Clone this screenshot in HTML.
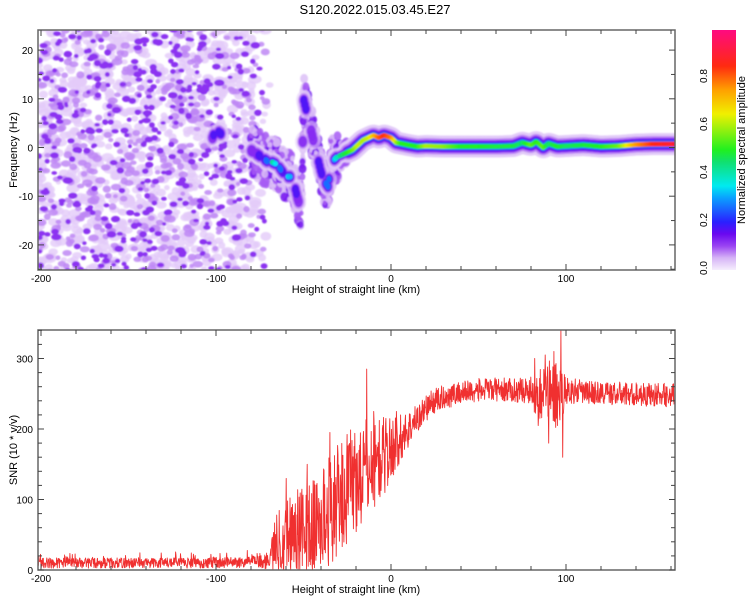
<!DOCTYPE html>
<html><head><meta charset="utf-8">
<style>
html,body{margin:0;padding:0;background:#fff;}
svg{display:block;font-family:"Liberation Sans",sans-serif;}
</style></head>
<body>
<svg id="root" width="750" height="600" viewBox="0 0 750 600">
<defs>
<filter id="soft" x="-5%" y="-5%" width="110%" height="110%"><feGaussianBlur stdDeviation="0.9"/></filter>
<clipPath id="clipTop"><rect x="38" y="30" width="637" height="240"/></clipPath>
<clipPath id="clipBot"><rect x="38" y="330" width="637" height="240"/></clipPath>
<linearGradient id="cbar" x1="0" y1="1" x2="0" y2="0">
<stop offset="0" stop-color="#f6eefd"/><stop offset="0.05" stop-color="#d6b4f6"/>
<stop offset="0.1" stop-color="#9a44f2"/><stop offset="0.15" stop-color="#6a08f0"/>
<stop offset="0.2" stop-color="#2a20ff"/><stop offset="0.3" stop-color="#0aa0ff"/>
<stop offset="0.35" stop-color="#00eaf0"/><stop offset="0.45" stop-color="#10e070"/>
<stop offset="0.5" stop-color="#20f020"/><stop offset="0.65" stop-color="#f0f000"/>
<stop offset="0.75" stop-color="#ffa000"/><stop offset="0.85" stop-color="#ff2a10"/>
<stop offset="1" stop-color="#ff0a80"/></linearGradient>
</defs>
<text x="375" y="14" text-anchor="middle" font-size="13">S120.2022.015.03.45.E27</text>
<g id="topPlot">
<g clip-path="url(#clipTop)"><g id="spec" filter="url(#soft)"></g></g>
</g>
<g id="botPlot">
<g clip-path="url(#clipBot)"><path id="snrLine" fill="none" stroke="#f03030" stroke-width="0.9" stroke-linejoin="round"/></g>
</g>
<g id="axes"></g>
<rect x="712" y="30" width="24" height="240" fill="url(#cbar)"/>
<text transform="translate(745,150) rotate(-90)" text-anchor="middle" font-size="11">Normalized spectral amplitude</text>
<g id="cbticks"></g>
<text transform="translate(17,150) rotate(-90)" text-anchor="middle" font-size="11">Frequency (Hz)</text>
<text x="356" y="293" text-anchor="middle" font-size="11">Height of straight line (km)</text>
<text transform="translate(17,450) rotate(-90)" text-anchor="middle" font-size="11">SNR (10 * v/v)</text>
<text x="356" y="593" text-anchor="middle" font-size="11">Height of straight line (km)</text>
</svg>
<script>
// ---- data ----
const xTicks = [-200,-100,0,100];
const freqTicks = [-20,-10,0,10,20];
const snrTicks = [0,100,200,300];
const cbTicks = [0.0,0.2,0.4,0.6,0.8];
// spectral ridge (height km, frequency Hz, amplitude)
const ridgeH = [-102,-100,-98,-78,-74,-70,-68,-65,-62,-59,-57,-55,-53,-51,-50,-48,-46,-44,-42,-40,-38,-36,-34,-31,-28,-25,-22,-19,-16,-13,-10,-7,-4,0,3,6,10,15,20,30,40,50,60,70,75,80,83,87,90,95,100,110,120,130,140,150,162];
const ridgeF = [2,3.8,3,-1,-2,-3,-3,-3.5,-5,-6,-6,-8,-11,-12,10,7,4,1,-2,-5,-7,-8,-3,-2,-1.5,-1,-0.5,0.5,1.5,2,2.5,2,2.5,2,1,0.8,0.5,0.2,0.3,0.2,0.2,0.2,0.2,0.3,1,0.5,1.2,0,0.8,0.2,0.3,0.5,0.2,0.3,0.6,0.7,0.7];
const ridgeA = [0.15,0.28,0.18,0.14,0.2,0.3,0.45,0.3,0.25,0.35,0.3,0.2,0.15,0.12,0.2,0.18,0.15,0.14,0.16,0.2,0.25,0.3,0.2,0.4,0.45,0.5,0.55,0.62,0.6,0.62,0.7,0.8,0.85,0.78,0.6,0.5,0.5,0.5,0.6,0.58,0.5,0.5,0.48,0.48,0.45,0.55,0.5,0.55,0.45,0.5,0.46,0.48,0.5,0.55,0.75,0.85,0.9];
// SNR envelope (height km, mean, noise spread)
const snrH = [-200,-150,-100,-75,-70,-65,-60,-55,-50,-45,-40,-35,-30,-25,-20,-15,-10,-5,0,5,10,15,20,25,30,40,50,60,70,80,84,88,92,96,100,110,130,162];
const snrMean = [10,10,10,12,15,40,50,55,55,60,70,85,100,115,130,140,150,160,170,185,200,215,230,240,245,252,255,256,255,255,250,255,250,250,255,252,250,248];
const snrSpread = [7,7,7,8,14,45,55,60,60,65,70,75,75,75,75,70,65,55,45,35,25,20,18,18,16,16,16,16,16,18,40,35,50,50,18,16,16,16];
const spikeH = [-60,-48,-35,-24,-14,-10,-3,3,82,84,88,90,93,95,97,98];
const spikeV = [130,150,195,175,285,225,215,225,300,205,305,180,310,205,340,160];

// ---- scales ----
const X = h => 41 + (h + 200) * 1.75;
const YT = f => 147.5 - f * 4.87;
const YB = s => 570 - s * 0.705;
const NS = 'http://www.w3.org/2000/svg';
function mk(tag, attrs, parent){const e=document.createElementNS(NS,tag);for(const k in attrs)e.setAttribute(k,attrs[k]);parent.appendChild(e);return e;}
function interp(xs, ys, x){ if(x<=xs[0])return ys[0]; for(let i=1;i<xs.length;i++){ if(x<=xs[i]){const t=(x-xs[i-1])/(xs[i]-xs[i-1]);return ys[i-1]+t*(ys[i]-ys[i-1]);}} return ys[ys.length-1]; }
let seed = 12345;
function rnd(){ seed = (seed*1664525+1013904223)>>>0; return seed/4294967296; }
const cmapS=[0,0.05,0.1,0.15,0.2,0.3,0.35,0.45,0.5,0.65,0.75,0.85,1];
const cmapC=['#f6eefd','#d6b4f6','#9a44f2','#6a08f0','#2a20ff','#0aa0ff','#00eaf0','#10e070','#20f020','#f0f000','#ffa000','#ff2a10','#ff0a80'];
function hex(c){return [1,3,5].map(i=>parseInt(c.substr(i,2),16));}
function cmap(v){ v=Math.max(0,Math.min(1,v)); for(let i=1;i<cmapS.length;i++){ if(v<=cmapS[i]){const t=(v-cmapS[i-1])/(cmapS[i]-cmapS[i-1]);const a=hex(cmapC[i-1]),b=hex(cmapC[i]);return 'rgb('+a.map((q,j)=>Math.round(q+t*(b[j]-q))).join(',')+')';}} return cmapC[cmapC.length-1]; }
function blob(h,f,rx,ry,v,op,name){
  const c = mk('ellipse',{cx:X(h),cy:YT(f),rx:rx,ry:ry,fill:cmap(v),opacity:op},spec);
  
  
}
function segOK(h){
  let j=0; while(j<ridgeH.length-1 && ridgeH[j+1]<h) j++;
  if(ridgeH[j+1]-ridgeH[j] > 15 && h>ridgeH[j]+2 && h<ridgeH[j+1]-2) return false;
  if(ridgeH[j+1] < ridgeH[j]) return false;
  return true;
}

// ---- spectrogram ----
const spec = document.getElementById('spec');
// background noise texture: light, medium, dark layers
const passes=[[1150,0.03,2.5,2.2,0.8],[520,0.07,2.1,1.6,0.85],[430,0.115,1.8,1.5,1]];
for(const [n,v,rb,rv,op] of passes){
  for(let i=0;i<n;i++){
    const h = -202 + rnd()*140;
    const dens = h < -88 ? 1 : Math.max(0, 1 - (h + 88) / 20);
    if(rnd() > dens) continue;
    const f = -26 + rnd()*52;
    const r = rb + rnd()*rv;
    blob(h,f,r*(1+rnd()*0.6),r,v,op,'noise-blob');
  }
}
// clustered blobs around the disturbed ridge region
for(let i=0;i<900;i++){
  const h = -82 + rnd()*57;
  if(!segOK(h)) continue;
  const f = interp(ridgeH, ridgeF, h) + (rnd()-0.5)*(h<-30?10:5);
  const a = rnd();
  const v = a<0.45?0.04:(a<0.8?0.09:0.14);
  const r = 1.8 + rnd()*2.5;
  blob(h,f,r,r*1.2,v,0.85,'ridge-cluster-blob');
}
// ridge halo layers
const layers=[[11,0.03,0.6],[8,0.07,0.85],[6.2,0.12,0.95],[4.8,0.17,1],[3.6,0.26,1]];
for(const [r,v,op] of layers){
  for(let h=ridgeH[0]; h<=164; h+=0.6){
    if(!segOK(h)) continue;
    if(h < -30 && Math.floor(h/2.2) % 2 === 0) continue;
    const f = interp(ridgeH, ridgeF, h), a = interp(ridgeH, ridgeA, h);
    if(a < v) continue;
    const rr = h < -25 ? r*0.7 : r;
    blob(h,f,rr,rr*(h<-30?1.3:1),v,op,'ridge-halo');
  }
}
for(let h=ridgeH[0]; h<=164; h+=0.6){
  if(!segOK(h)) continue;
  if(h < -30 && Math.floor(h/2.2) % 2 === 0) continue;
  const f = interp(ridgeH, ridgeF, h), a = interp(ridgeH, ridgeA, h);
  if(a < 0.3) continue;
  blob(h,f,2.4,2.4,a,1,'ridge-core');
}

// ---- SNR line ----
let d='';
let si=0;
for(let h=-201.7; h<=162.3; h+=0.2){
  const m = interp(snrH, snrMean, h), s = interp(snrH, snrSpread, h);
  const u = rnd();
  let v = m + s*(u - 0.5)*2.1;
  if(s < 12 && rnd() < 0.08) v += s*1.2;
  while(si < spikeH.length && spikeH[si] <= h){ v = spikeV[si]; si++; }
  v = Math.max(1, v);
  d += (d ? 'L' : 'M') + X(h).toFixed(1) + ',' + YB(v).toFixed(1);
}
document.getElementById('snrLine').setAttribute('d', d);

// ---- axes ----
const ax = document.getElementById('axes');
function frame(y0, y1, yticks, Yf, minorStep, yMin, yMax, prefix){
  const r = mk('rect',{x:38,y:y0,width:637,height:y1-y0,fill:'none',stroke:'#666','stroke-width':1.5},ax);
  
  
  for(let h=-200; h<=160; h+=20){
    const big = h % 100 === 0, L = big ? 6 : 4, x = X(h);
    mk('line',{x1:x,x2:x,y1:y1,y2:y1-L,stroke:'#444'},ax);
    mk('line',{x1:x,x2:x,y1:y0,y2:y0+L,stroke:'#444'},ax);
  }
  for(const t of xTicks){
    const tx = mk('text',{x:X(t),y:y1+12,'text-anchor':'middle','font-size':10},ax);
    tx.textContent = t;
    
    
  }
  for(let v=yMin; v<=yMax; v+=minorStep){
    const y = Yf(v); if(y<y0-0.5||y>y1+0.5) continue;
    const big = yticks.includes(v), L = big ? 6 : 4;
    mk('line',{x1:38,x2:38+L,y1:y,y2:y,stroke:'#444'},ax);
    mk('line',{x1:675,x2:675-L,y1:y,y2:y,stroke:'#444'},ax);
  }
  for(const t of yticks){
    const tx = mk('text',{x:33,y:Yf(t)+4,'text-anchor':'end','font-size':10},ax);
    tx.textContent = t;
    
    
  }
}
frame(30, 270, freqTicks, YT, 5, -25, 25, 'top');
frame(330, 570, snrTicks, YB, 20, 0, 340, 'bottom');
const cbt = document.getElementById('cbticks');
for(const t of cbTicks){
  const y = 268 - t*240;
  const tx = mk('text',{transform:'translate(707,'+y+') rotate(-90)','text-anchor':'middle','font-size':10},cbt);
  tx.textContent = t.toFixed(1);
  
  
}
</script>
</body></html>
